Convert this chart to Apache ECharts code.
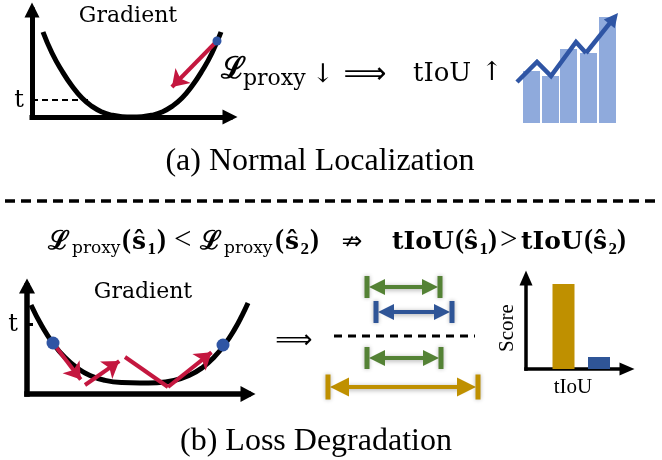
<!DOCTYPE html>
<html><head><meta charset="utf-8">
<script src="https://cdn.jsdelivr.net/npm/echarts@6/dist/echarts.min.js"></script>
<style>html,body{margin:0;padding:0;background:#fff}#c{width:662px;height:460px}</style>
</head><body><div id="c"></div>
<script>
// ---------------- data (panel units) ----------------
// (a) loss curve
const curveA_x = [11,20,30,40,50,60,70,80,90,100,110,120,130,140,150,160,170,180,189];
const curveA_y = [85,64,46,31,19,10.6,5,1.8,0.3,0,0.3,1.8,5,10.6,19,31,46,64,85];
const pointA = [185,76];
const gradA_end = [135,25];
const tA = 17, tA_end = 60;
// (a) tIoU trend bars + rising line
const barsX = [19.5,38.5,56.5,76.5,95.5];
const barsY = [52,47,74,70,106];
const trendX = [5,25,39,64,74,106];
const trendY = [41,61,47,81,70,110];
// (b) loss curve
const curveB_x = [4,15,26,38,50,63,78,95,113,130,147,162,175,187,198,208,215,221];
const curveB_y = [89,67.7,50.6,36.4,26.1,18.5,13.6,11.4,11,11.3,13.5,18.5,26.1,36.7,50,65.4,78.4,91];
const pointsB_x = [26,196];
const pointsB_y = [51,49];
const zigX = [26,58,98,141,190];
const zigY = [51,9,37,7,46];
const zigArrow = [1,1,0,1];
const tB = 70;
// (b) intervals
const intStart = [47,56,47,8];
const intEnd = [120,132,121,158];
const intRow = [113,88,42,13];
const intColor = ['#548235','#2F5597','#548235','#BF9000'];
const dashRow = 64, dashStart = 14, dashEnd = 155;
// (b) score bars
const scoreX = [37.5,73];
const scoreY = [85,12];
const scoreColor = ['#BF9000','#2F5597'];

// ---------------- styles ----------------
const RED = '#C4173F', BLUE = '#2F55A4', LBLUE = '#8FAADC';
const MATH = 'DejaVu Serif', TIMES = 'Liberation Serif';

function pull(p0, p1, d) {
  const dx = p1[0]-p0[0], dy = p1[1]-p0[1], L = Math.hypot(dx,dy);
  return [p1[0]-dx/L*d, p1[1]-dy/L*d];
}
function ax(gi, max, show, lw, arrow) {
  return {type:'value', gridIndex:gi, min:0, max:max, show:true,
    axisLine:{show:show, onZero:false, symbol:['none','triangle'], symbolSize:arrow||[14,14],
      lineStyle:{color:'#000', width:lw||5, cap:'square'}},
    axisTick:{show:false}, axisLabel:{show:false}, splitLine:{show:false}};
}
const grids = [
  {left:32, top:10, width:198, height:107},
  {left:512, top:10, width:108, height:113},
  {left:27, top:286, width:221, height:108},
  {left:320, top:270, width:170, height:130},
  {left:526, top:278, width:101, height:91}
];
const xAxes = [ax(0,198,true,5,[15,15]), ax(1,108,false), ax(2,221,true,5.5,[16,15]), ax(3,170,false), ax(4,101,true,3.5,[13,15])];
const yAxes = [ax(0,107,true,5,[15,15]), ax(1,113,false), ax(2,108,true,5.5,[16,15]), ax(3,130,false), ax(4,91,true,3.5,[13,15])];

const series = [];
series.push({type:'line', xAxisIndex:0, yAxisIndex:0, data:curveA_x.map((x,i)=>[x,curveA_y[i]]),
  smooth:0.5, symbol:'none', clip:false, lineStyle:{color:'#000', width:5}, z:3});
series.push({type:'line', xAxisIndex:0, yAxisIndex:0, data:[[0,tA],[tA_end,tA]], symbol:'none', clip:false,
  lineStyle:{color:'#000', width:2, type:[6,4]}, z:2});
series.push({type:'lines', coordinateSystem:'cartesian2d', xAxisIndex:0, yAxisIndex:0, symbol:['none','arrow'], symbolSize:[14,16],
  lineStyle:{color:RED, width:4, opacity:1}, data:[{coords:[pointA, pull(pointA, gradA_end, 7)]}], z:4});
series.push({type:'scatter', xAxisIndex:0, yAxisIndex:0, data:[pointA], symbolSize:9, itemStyle:{color:BLUE, opacity:1}, z:5});
series.push({type:'bar', xAxisIndex:1, yAxisIndex:1, data:barsX.map((x,i)=>[x,barsY[i]]), barWidth:17,
  itemStyle:{color:LBLUE}, z:1});
const tl = trendX.map((x,i)=>[x,trendY[i]]);
series.push({type:'line', xAxisIndex:1, yAxisIndex:1, data:tl.slice(0,tl.length-1), symbol:'none', clip:false,
  lineStyle:{color:BLUE, width:4.5, join:'miter'}, z:3});
series.push({type:'lines', coordinateSystem:'cartesian2d', xAxisIndex:1, yAxisIndex:1, symbol:['none','triangle'], symbolSize:14,
  lineStyle:{color:BLUE, width:4.5, opacity:1}, data:[{coords:[tl[tl.length-2], pull(tl[tl.length-2], tl[tl.length-1], 7)]}], z:3});
series.push({type:'line', xAxisIndex:2, yAxisIndex:2, data:curveB_x.map((x,i)=>[x,curveB_y[i]]),
  smooth:0.5, symbol:'none', clip:false, lineStyle:{color:'#000', width:5}, z:3});
series.push({type:'lines', coordinateSystem:'cartesian2d', xAxisIndex:2, yAxisIndex:2, symbol:'none',
  lineStyle:{color:'#000', width:3, opacity:1}, data:[{coords:[[0,tB],[6,tB]]}], z:3});
const zigData = [];
for (let i=0;i<zigX.length-1;i++){
  const p0=[zigX[i],zigY[i]], p1=[zigX[i+1],zigY[i+1]];
  zigData.push({coords:[p0, zigArrow[i]? pull(p0,p1,7):p1], symbol:['none', zigArrow[i]?'arrow':'none']});
}
series.push({type:'lines', coordinateSystem:'cartesian2d', xAxisIndex:2, yAxisIndex:2, symbolSize:[14,16],
  lineStyle:{color:RED, width:4, opacity:1}, data:zigData, z:4});
series.push({type:'scatter', xAxisIndex:2, yAxisIndex:2, data:pointsB_x.map((x,i)=>[x,pointsB_y[i]]), symbolSize:13,
  itemStyle:{color:BLUE, opacity:1}, z:5});
// intervals: one series per interval
const capData = [];
intStart.forEach((s,i)=>{
  const e = intEnd[i], r = intRow[i], big = i===3;
  const S = big?19:16, hl = S/2;
  series.push({type:'lines', coordinateSystem:'cartesian2d', xAxisIndex:3, yAxisIndex:3, symbol:['triangle','triangle'],
    symbolSize: S,
    lineStyle:{color:intColor[i], width:4, opacity:1, shadowBlur:5, shadowColor:'rgba(0,0,0,0.35)', shadowOffsetY:1},
    itemStyle:{color:intColor[i]},
    data:[{coords:[[s+2+hl, r],[e-2-hl, r]]}], z:3});
  capData.push({value:[s,r], itemStyle:{color:intColor[i]}, symbolSize:[5, big?25:22]});
  capData.push({value:[e,r], itemStyle:{color:intColor[i]}, symbolSize:[5, big?25:22]});
});
series.push({type:'scatter', xAxisIndex:3, yAxisIndex:3, symbol:'rect', data:capData,
  itemStyle:{opacity:1, shadowBlur:4, shadowColor:'rgba(0,0,0,0.3)'}, z:4});
series.push({type:'line', xAxisIndex:3, yAxisIndex:3, data:[[dashStart,dashRow],[dashEnd,dashRow]], symbol:'none',
  lineStyle:{color:'#000', width:3, type:[8,6]}, z:2});
series.push({type:'bar', xAxisIndex:4, yAxisIndex:4, barWidth:22,
  data:scoreX.map((x,i)=>({value:[x,scoreY[i]], itemStyle:{color:scoreColor[i]}})), z:1});

// ---------------- text ----------------
function T(x,y,text,font,o){
  return Object.assign({type:'text', x:x, y:y, z:10, style:{text:text, font:font, fill:'#000',
    align:'center', verticalAlign:'middle', textAlign:'center', textVerticalAlign:'middle'}}, o||{});
}
function TL(x,y,text,font){
  return {type:'text', x:x, y:y, z:10, style:{text:text, font:font, fill:'#000',
    align:'left', verticalAlign:'middle', textAlign:'left', textVerticalAlign:'middle'}};
}
// formula pieces: [text, left x, kind]
const KIND = {
  L:['bold 26px '+MATH, 0], m:['bold 25px '+MATH, 0], p:['bold 27px '+TIMES, -1], o:['31px '+TIMES, -1],
  s:['17px '+MATH, 7], n:['bold 17px '+TIMES, 8]
};
function formula(pieces, y){
  return pieces.map(p=>TL(p[1], y+KIND[p[2]][1], p[0], KIND[p[2]][0]));
}
const leftF = [['ℒ',48,'L'],['proxy',72,'s'],['(',122,'p'],['ŝ',132,'m'],['1',147.5,'n'],[')',157,'p'],
  ['<',174,'o'],['ℒ',200,'L'],['proxy',224,'s'],['(',275,'p'],['ŝ',285,'m'],['2',300.5,'n'],[')',310,'p']];
const rightF = [['tIoU',392,'m'],['(',455,'p'],['ŝ',464,'m'],['1',479.5,'n'],[')',488,'p'],['>',500,'o'],
  ['tIoU',521,'m'],['(',584,'p'],['ŝ',593,'m'],['2',608.5,'n'],[')',617,'p']];

const graphic = [
  T(128,16,'Gradient','22px '+MATH),
  T(19,101,'t','24px '+MATH),
  TL(221,70,'ℒ','bold 30px '+MATH),
  TL(243,79,'proxy','22px '+MATH),
  T(323,75,'↓','26px '+MATH),
  T(365,75,'⟹','30px DejaVu Sans'),
  TL(413,74,'tIoU','26px '+MATH),
  T(492,73,'↑','26px '+MATH),
  T(320,162,'(a) Normal Localization','32px '+TIMES),
  {type:'line', z:10, shape:{x1:5,y1:201,x2:657,y2:201}, style:{stroke:'#000', lineWidth:3.5, lineDash:[10,6]}},
  T(352,242,'⇏','25px DejaVu Sans'),
  T(143,292,'Gradient','22px '+MATH),
  T(13,325,'t','24px '+MATH),
  T(294,341,'⟹','26px DejaVu Sans'),
  T(507,328,'Score','21px '+TIMES,{rotation:Math.PI/2}),
  T(573,387,'tIoU','21px '+TIMES),
  T(316,442,'(b) Loss Degradation','32px '+TIMES)
].concat(formula(leftF,242), formula(rightF,242));

const chart = echarts.init(document.getElementById('c'), null, {renderer:'canvas'});
chart.setOption({animation:false, backgroundColor:'#fff', grid:grids, xAxis:xAxes, yAxis:yAxes, series:series, graphic:graphic});
</script></body></html>
